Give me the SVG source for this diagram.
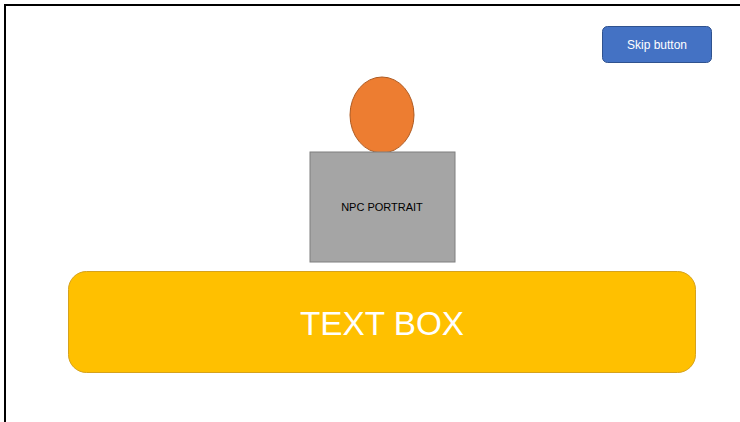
<svg xmlns="http://www.w3.org/2000/svg" width="740" height="422" viewBox="0 0 740 422">
<style>
text{font-family:"Liberation Sans","Open Sans",sans-serif;text-anchor:middle}
.w{fill:#fff}
</style>
<rect width="740" height="422" fill="#fff"/>
<path d="M5,422 V5 H740" fill="none" stroke="#000" stroke-width="2"/>
<g id="skip">
<rect x="602.5" y="26.5" width="109" height="36" rx="5" fill="#4472C4" stroke="#2F528F" stroke-width="1"/>
<text class="w" x="657" y="49" font-size="12">Skip button</text>
</g>
<g id="head">
<ellipse cx="382" cy="115" rx="32" ry="38" fill="#ED7D31" stroke="#AE5A21" stroke-width="1"/>
</g>
<g id="portrait">
<rect x="310" y="152" width="145" height="110" fill="#A5A5A5" stroke="#7F7F7F" stroke-width="1"/>
<text x="382" y="211" font-size="11" fill="#000">NPC PORTRAIT</text>
</g>
<g id="textbox">
<rect x="68.5" y="271.5" width="627" height="101" rx="18" fill="#FFC000" stroke="#D6A21C" stroke-width="1"/>
<text class="w" x="382" y="335" font-size="33" textLength="164" lengthAdjust="spacingAndGlyphs">TEXT BOX</text>
</g>
<g id="connectors"/>
</svg>
